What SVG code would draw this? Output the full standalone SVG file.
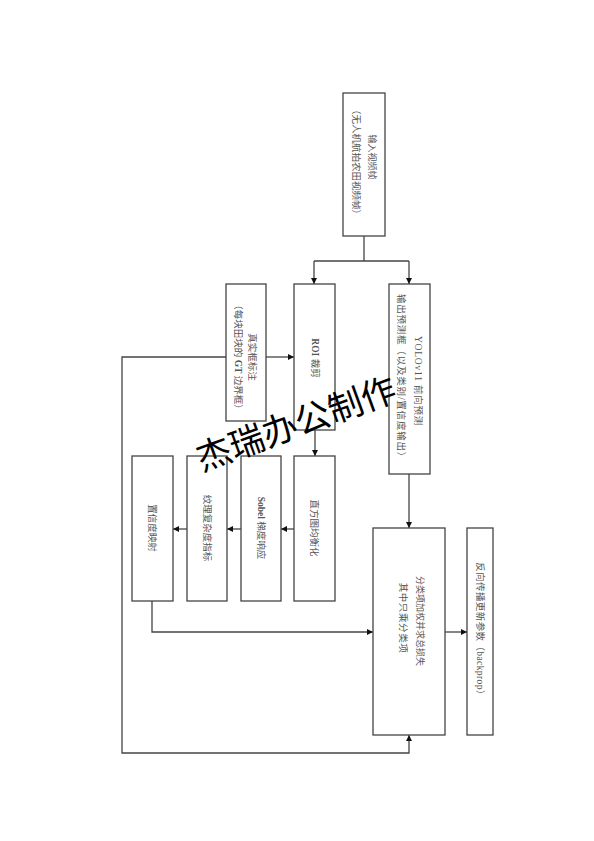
<svg xmlns="http://www.w3.org/2000/svg" width="594" height="841" viewBox="0 0 594 841">
<defs>
<marker id="ah" viewBox="0 0 10 10" refX="10" refY="5" markerWidth="6" markerHeight="6" orient="auto" markerUnits="userSpaceOnUse">
<path d="M0,0 L10,5 L0,10 z" fill="#111"/>
</marker>
</defs>
<style>
.box{fill:#fff;stroke:#444;stroke-width:1.3}
.t{font-family:"Liberation Serif","Noto Sans CJK SC",serif;font-size:9.5px;fill:#555;text-anchor:middle;dominant-baseline:central}
.b{font-weight:bold}
.c{fill:none;stroke:#444;stroke-width:1.3}
.wm{font-family:"Noto Sans CJK SC",sans-serif;font-size:35px;fill:#000;text-anchor:middle;dominant-baseline:central}
</style>
<rect width="594" height="841" fill="#fff"/>
<g id="connectors">
<path class="c" d="M364,236 V261"/>
<path class="c" d="M314,261 H409"/>
<path class="c" d="M314,261 V284" marker-end="url(#ah)"/>
<path class="c" d="M409,261 V284" marker-end="url(#ah)"/>
<path class="c" d="M266,357 H294" marker-end="url(#ah)"/>
<path class="c" d="M315,430 V456" marker-end="url(#ah)"/>
<path class="c" d="M294,529 H281" marker-end="url(#ah)"/>
<path class="c" d="M241,529 H227" marker-end="url(#ah)"/>
<path class="c" d="M187,529 H173" marker-end="url(#ah)"/>
<path class="c" d="M152,601 V632 H373" marker-end="url(#ah)"/>
<path class="c" d="M409,474 V528" marker-end="url(#ah)"/>
<path class="c" d="M445,632 H467" marker-end="url(#ah)"/>
<path class="c" d="M226,357 H122 V753 H409 V735" marker-end="url(#ah)"/>
</g>
<g id="input">
<rect class="box" x="343" y="93" width="42" height="143"/>
<text class="t" transform="translate(372,157) rotate(90)" style="font-size:9px">输入视频帧</text>
<text class="t" transform="translate(356,162) rotate(90)">（无人机航拍农田视频帧）</text>
</g>
<g id="gt">
<rect class="box" x="226" y="284" width="40" height="137"/>
<text class="t" transform="translate(252,357) rotate(90)">真实框标注</text>
<text class="t" transform="translate(238,357) rotate(90)">（每块田块的 <tspan class="b">GT</tspan> 边界框）</text>
</g>
<g id="roi">
<rect class="box" x="294" y="284" width="41" height="146"/>
<text class="t" transform="translate(315,358) rotate(90)"><tspan class="b">ROI</tspan> 裁剪</text>
</g>
<g id="yolo">
<rect class="box" x="389" y="284" width="41" height="190"/>
<text class="t" transform="translate(418,381) rotate(90)" style="letter-spacing:0.8px">YOLOv11 前向预测</text>
<text class="t" transform="translate(401,378) rotate(90)" style="letter-spacing:0.8px">输出预测框（以及类别/置信度输出）</text>
</g>
<g id="hist">
<rect class="box" x="294" y="456" width="41" height="145"/>
<text class="t" transform="translate(314,528) rotate(90)">直方图均衡化</text>
</g>
<g id="sobel">
<rect class="box" x="241" y="456" width="40" height="145"/>
<text class="t" transform="translate(261,528) rotate(90)"><tspan class="b">Sobel</tspan> 梯度响应</text>
</g>
<g id="texture">
<rect class="box" x="187" y="456" width="40" height="145"/>
<text class="t" transform="translate(207,528) rotate(90)">纹理复杂度指标</text>
</g>
<g id="conf">
<rect class="box" x="132" y="456" width="41" height="145"/>
<text class="t" transform="translate(152,528) rotate(90)">置信度映射</text>
</g>
<g id="loss">
<rect class="box" x="373" y="528" width="72" height="207"/>
<text class="t" transform="translate(420,621) rotate(90)" style="font-size:9px">分类项加权并求总损失</text>
<text class="t" transform="translate(403,618) rotate(90)" style="letter-spacing:0.6px">其中只乘分类项</text>
</g>
<g id="backprop">
<rect class="box" x="467" y="528" width="26" height="207"/>
<text class="t" transform="translate(480,631) rotate(90)" style="letter-spacing:0.4px">反向传播更新参数（backprop）</text>
</g>
<text class="wm" transform="translate(295,421) rotate(-20)">杰瑞办公制作</text>
</svg>
